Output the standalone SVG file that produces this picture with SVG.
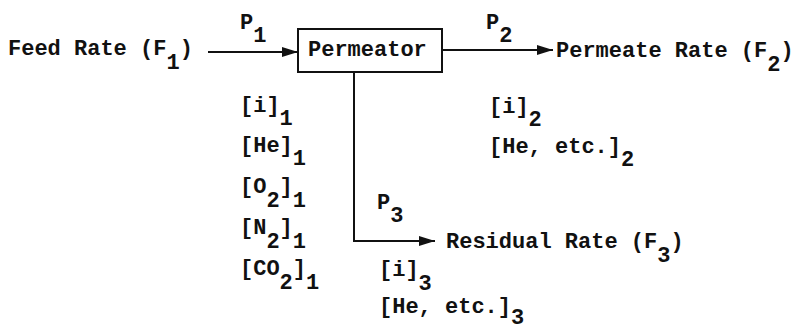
<svg xmlns="http://www.w3.org/2000/svg" width="802" height="330" viewBox="0 0 802 330">
<defs>
<style>
text{font-family:"Liberation Mono","DejaVu Sans Mono",monospace;font-size:22px;font-weight:bold;fill:#111}
.ln{stroke:#111;stroke-width:2;fill:none}
</style>
<marker id="ah" markerUnits="userSpaceOnUse" markerWidth="18" markerHeight="12" refX="16" refY="6" orient="auto">
<path d="M0,1 L16,6 L0,11 Z" fill="#111"/>
</marker>
</defs>
<rect width="802" height="330" fill="#fff"/>
<g id="feed">
<text x="8" y="55">Feed Rate (F<tspan dy="14">1</tspan><tspan dy="-14">)</tspan></text>
</g>
<g id="permeator">
<rect x="298" y="29" width="144" height="43" class="ln"/>
<text x="308" y="56">Permeator</text>
</g>
<g id="permeate">
<text x="556" y="57">Permeate Rate (F<tspan dy="14">2</tspan><tspan dy="-14">)</tspan></text>
</g>
<g id="residual">
<text x="446" y="248">Residual Rate (F<tspan dy="14">3</tspan><tspan dy="-14">)</tspan></text>
</g>
<g id="connectors">
<line x1="208" y1="52" x2="298" y2="52" class="ln" marker-end="url(#ah)"/>
<line x1="442" y1="50" x2="553" y2="50" class="ln" marker-end="url(#ah)"/>
<polyline points="354,72 354,241 435,241" class="ln" marker-end="url(#ah)"/>
<text x="240" y="29">P<tspan dy="13">1</tspan></text>
<text x="486" y="29">P<tspan dy="13">2</tspan></text>
<text x="377" y="209">P<tspan dy="13">3</tspan></text>
</g>
<g id="feed-composition">
<text x="240" y="112">[i]<tspan dy="13">1</tspan></text>
<text x="240" y="152">[He]<tspan dy="13">1</tspan></text>
<text x="240" y="193">[O<tspan dy="14">2</tspan><tspan dy="-14">]</tspan><tspan dy="14">1</tspan></text>
<text x="240" y="234">[N<tspan dy="14">2</tspan><tspan dy="-14">]</tspan><tspan dy="14">1</tspan></text>
<text x="240" y="275">[CO<tspan dy="14">2</tspan><tspan dy="-14">]</tspan><tspan dy="14">1</tspan></text>
</g>
<g id="permeate-composition">
<text x="489" y="113">[i]<tspan dy="13">2</tspan></text>
<text x="489" y="153">[He, etc.]<tspan dy="13">2</tspan></text>
</g>
<g id="residual-composition">
<text x="379" y="276">[i]<tspan dy="14">3</tspan></text>
<text x="379" y="313">[He, etc.]<tspan dy="11">3</tspan></text>
</g>
</svg>
